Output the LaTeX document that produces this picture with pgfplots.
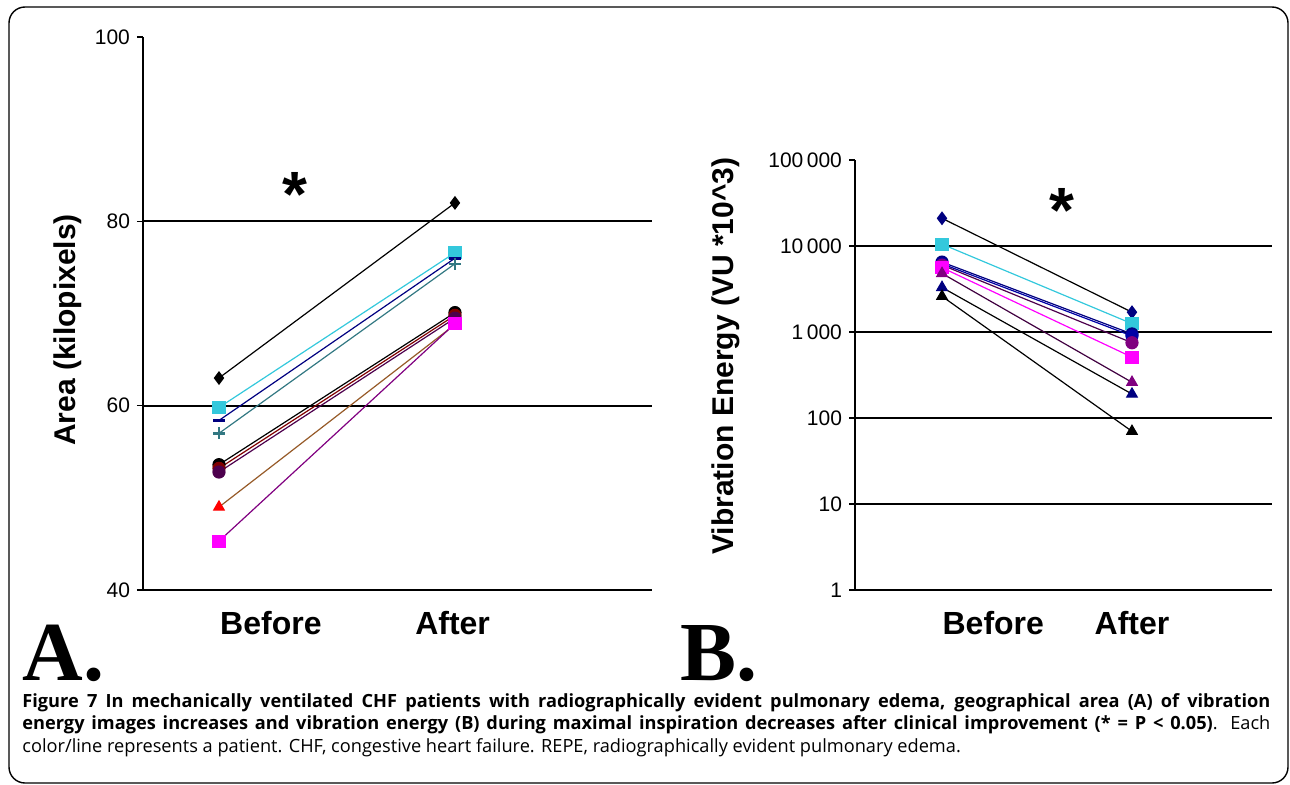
\documentclass[border=0pt]{standalone}
\usepackage{pgfplots}
\pgfplotsset{compat=1.18}
\usepackage{fontspec}
\setmainfont{Liberation Sans}
\newfontfamily\capfont{Open Sans}
\newfontfamily\letterfont{Liberation Serif}

\definecolor{cyanl}{RGB}{51,200,220}
\definecolor{navy}{RGB}{0,0,128}
\definecolor{tealc}{RGB}{50,120,130}
\definecolor{maroon}{RGB}{128,0,0}
\definecolor{purp}{RGB}{128,0,128}
\definecolor{brownl}{RGB}{150,90,40}
\definecolor{magen}{RGB}{255,0,255}

\pgfplotsset{
  panel/.style={
    anchor=south west, scale only axis, clip=false,
    axis x line*=bottom, axis y line*=left,
    axis line style={-, line width=1pt},
    major grid style={black, line width=1pt},
    extra y tick style={grid=major},
    x tick style={draw=none},
    y tick style={black, line width=0.8pt},
    tick align=outside, major tick length=3pt,
    tick label style={font=\fontsize{10.5}{12}\selectfont},
    xticklabel style={font=\fontsize{16}{18}\selectfont\bfseries, yshift=-4pt},
    every axis plot/.append style={line width=0.6pt, mark size=3pt},
  },
}

\begin{document}
\begin{tikzpicture}
\useasboundingbox (0,0) rectangle (645pt,392pt);
\draw[line width=0.7pt, rounded corners=8pt] (4.5pt,0.5pt) rectangle (644pt,388.5pt);

% panel A
\begin{axis}[panel,
  at={(71.5pt,97pt)}, width=254.5pt, height=276.5pt,
  xmin=0.678, xmax=2.835, ymin=40, ymax=100,
  ytick={40,100}, yticklabels={40,100},
  extra y ticks={60,80}, extra y tick labels={60,80},
  xtick={1.22,1.99}, xticklabels={Before,After},
]
\addplot[black, mark=diamond*] coordinates {(1,63.0) (2,82.0)};
\addplot[cyanl, mark=square*, mark options={fill=cyanl}] coordinates {(1,59.8) (2,76.6)};
\addplot[navy, mark=-, mark options={line width=1.5pt}] coordinates {(1,58.4) (2,76.0)};
\addplot[tealc, mark=+, mark options={line width=1.2pt}] coordinates {(1,57.0) (2,75.4)};
\addplot[black, mark=*] coordinates {(1,53.6) (2,70.1)};
\addplot[maroon, mark=*] coordinates {(1,53.2) (2,69.8)};
\addplot[purp!60!black, mark=*] coordinates {(1,52.8) (2,69.5)};
\addplot[brownl, mark=triangle*, mark options={fill=red, draw=red}] coordinates {(1,49.0) (2,68.8)};
\addplot[purp, mark=square*, mark options={fill=magen, draw=magen}] coordinates {(1,45.3) (2,68.9)};
\node[anchor=north, font=\fontsize{32}{32}\selectfont\bfseries] at (axis cs:1.32,86.1) {*};
\end{axis}

% panel B
\begin{axis}[panel,
  at={(427.5pt,97pt)}, width=208.5pt, height=215pt,
  xmin=0.542, xmax=2.737, ymode=log, ymin=1, ymax=100000,
  ytick={1,100000}, yticklabels={1,100\,000},
  extra y ticks={10,100,1000,10000}, extra y tick labels={10,100,1\,000,10\,000},
  xtick={1.27,2.0}, xticklabels={Before,After},
]
\addplot[black, mark=diamond*, mark options={fill=navy, draw=navy}] coordinates {(1,21000) (2,1700)};
\addplot[cyanl, mark=square*, mark options={fill=cyanl}] coordinates {(1,10500) (2,1250)};
\addplot[navy, mark=*] coordinates {(1,6500) (2,950)};
\addplot[navy!70!blue, mark=*] coordinates {(1,6200) (2,900)};
\addplot[purp!60!black, mark=*, mark options={fill=purp, draw=purp}] coordinates {(1,6000) (2,750)};
\addplot[magen, mark=square*, mark options={fill=magen, draw=magen}] coordinates {(1,5600) (2,510)};
\addplot[purp!50!black, mark=triangle*, mark options={fill=purp, draw=purp}] coordinates {(1,4800) (2,260)};
\addplot[black, mark=triangle*, mark options={fill=navy, draw=navy}] coordinates {(1,3300) (2,190)};
\addplot[black, mark=triangle*] coordinates {(1,2600) (2,70)};
\node[anchor=north, font=\fontsize{32}{32}\selectfont\bfseries] at (axis cs:1.63,56000) {*};
\end{axis}

% axis titles
\node[rotate=90, font=\fontsize{15}{17}\selectfont\bfseries] at (34pt,227pt) {Area (kilopixels)};
\node[rotate=90, font=\fontsize{15}{17}\selectfont\bfseries] at (363pt,214pt) {Vibration Energy (VU *10\textasciicircum 3)};

% panel letters
\node[anchor=base west, inner sep=0, font=\fontsize{42}{42}\selectfont\letterfont\bfseries] at (11pt,52pt) {A.};
\node[anchor=base west, inner sep=0, font=\fontsize{42}{42}\selectfont\letterfont\bfseries] at (340pt,52pt) {B.};

% caption
\node[anchor=north west, inner sep=0, text width=624pt, align=justify,
      font=\capfont\fontsize{9.1}{11.2}\selectfont] at (11pt,45.5pt)
{\textbf{Figure 7 In mechanically ventilated CHF patients with radiographically evident pulmonary edema, geographical area (A) of vibration\linebreak energy images increases and vibration energy (B) during maximal inspiration decreases after clinical improvement (* = P < 0.05)}. Each\linebreak color/line represents a patient. CHF, congestive heart failure. REPE, radiographically evident pulmonary edema.};
\end{tikzpicture}
\end{document}
